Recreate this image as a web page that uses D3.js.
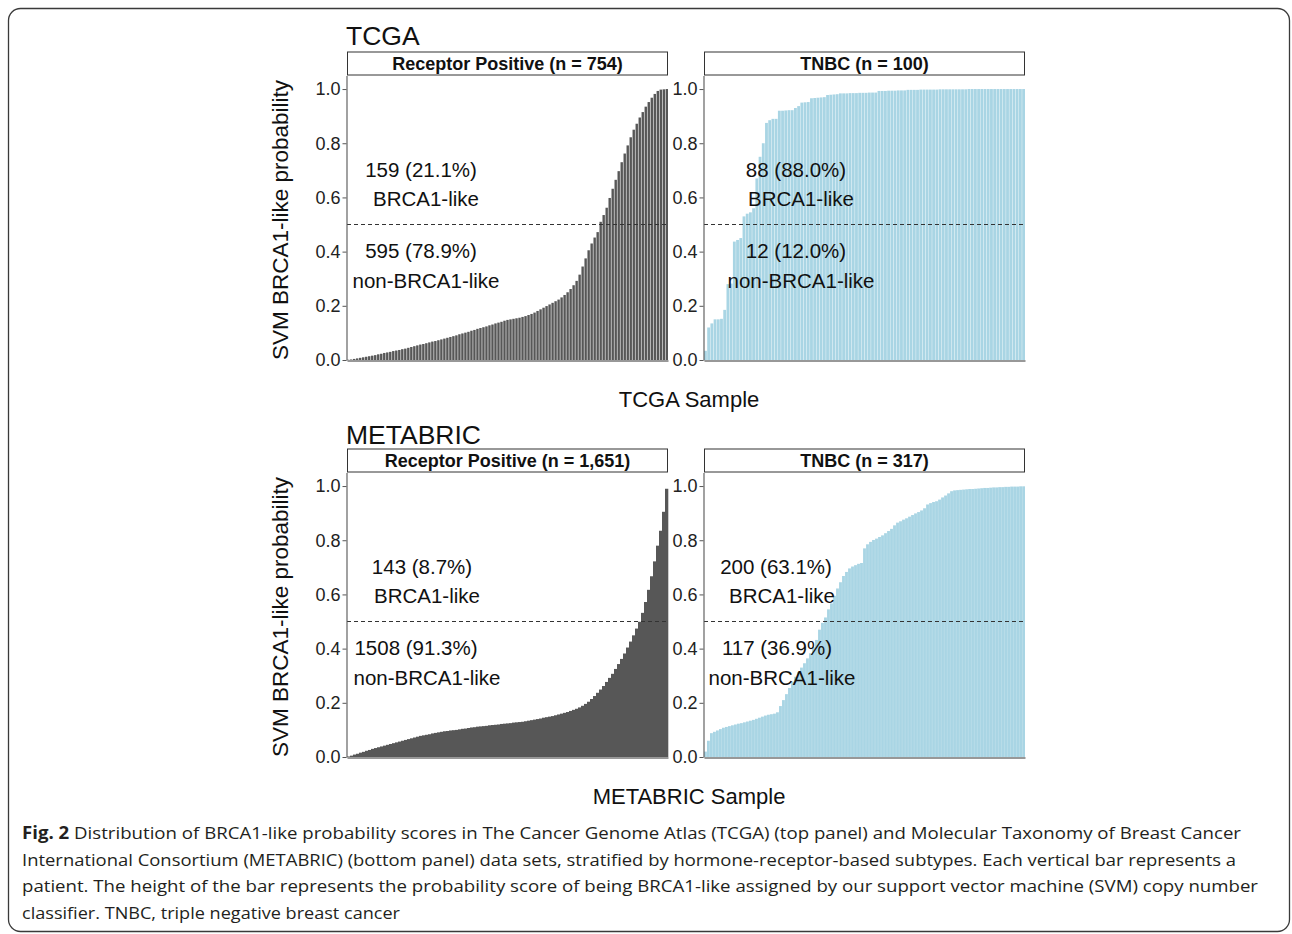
<!DOCTYPE html>
<html>
<head>
<meta charset="utf-8">
<script src="https://cdn.jsdelivr.net/npm/d3@7"></script>
<style>
  body { margin: 0; background: #fff; }
  text { font-family: "Liberation Sans", Arial, sans-serif; }
  .caption { font-family: "Open Sans", "Noto Sans", sans-serif; fill: #231f20; }
</style>
</head>
<body>
<div class="chart"></div>
<script>
// sorted BRCA1-like probabilities left to right
const tcgaRp = [0.001,0.002,0.004,0.006,0.008,0.010,0.012,0.014,0.016,0.018,
  0.021,0.023,0.026,0.028,0.030,0.033,0.035,0.037,0.040,0.042,
  0.045,0.048,0.051,0.054,0.057,0.059,0.062,0.065,0.068,0.070,
  0.073,0.076,0.079,0.082,0.085,0.088,0.091,0.095,0.098,0.101,
  0.104,0.108,0.111,0.115,0.118,0.121,0.124,0.128,0.131,0.135,
  0.138,0.141,0.145,0.148,0.150,0.152,0.154,0.156,0.159,0.162,
  0.166,0.170,0.175,0.181,0.187,0.193,0.199,0.205,0.211,0.217,
  0.223,0.231,0.240,0.250,0.262,0.276,0.292,0.315,0.345,0.375,
  0.405,0.430,0.452,0.472,0.510,0.535,0.562,0.598,0.632,0.665,
  0.697,0.730,0.762,0.792,0.822,0.850,0.872,0.895,0.915,0.935,
  0.952,0.968,0.982,0.993,0.998,0.999,1.000];

const tcgaTnbc = [0.034,0.120,0.135,0.150,0.150,0.152,0.185,0.280,0.282,0.437,
  0.443,0.450,0.530,0.540,0.545,0.560,0.670,0.750,0.800,0.875,
  0.885,0.890,0.890,0.920,0.920,0.921,0.922,0.922,0.930,0.937,
  0.950,0.951,0.952,0.966,0.967,0.968,0.969,0.970,0.978,0.979,
  0.980,0.981,0.984,0.984,0.984,0.985,0.985,0.985,0.986,0.986,
  0.986,0.987,0.987,0.987,0.993,0.993,0.993,0.994,0.994,0.994,
  0.995,0.995,0.995,0.997,0.997,0.997,0.997,0.998,0.998,0.998,
  0.998,0.998,0.998,0.999,0.999,0.999,0.999,0.999,0.999,0.999,
  0.999,0.999,1.000,1.000,1.000,1.000,1.000,1.000,1.000,1.000,
  1.000,1.000,1.000,1.000,1.000,1.000,1.000,1.000,1.000,1.000];

const metabricRp = [0.002,0.005,0.009,0.012,0.016,0.019,0.023,0.026,0.030,0.033,
  0.036,0.039,0.042,0.045,0.048,0.051,0.054,0.057,0.060,0.063,
  0.066,0.069,0.072,0.075,0.078,0.080,0.082,0.084,0.087,0.089,
  0.091,0.093,0.095,0.096,0.098,0.099,0.100,0.102,0.104,0.105,
  0.107,0.109,0.110,0.112,0.113,0.114,0.115,0.117,0.118,0.119,
  0.120,0.122,0.123,0.124,0.125,0.127,0.128,0.129,0.130,0.132,
  0.134,0.136,0.138,0.140,0.142,0.145,0.147,0.149,0.151,0.154,
  0.157,0.160,0.163,0.166,0.170,0.174,0.178,0.183,0.189,0.196,
  0.204,0.214,0.225,0.237,0.249,0.262,0.277,0.292,0.307,0.325,
  0.343,0.362,0.382,0.404,0.426,0.449,0.474,0.499,0.532,0.572,
  0.617,0.667,0.722,0.780,0.835,0.905,0.990];

const metabricTnbc = [0.020,0.060,0.088,0.093,0.098,0.103,0.108,0.111,0.114,0.117,
  0.120,0.123,0.125,0.128,0.131,0.134,0.137,0.141,0.145,0.149,
  0.153,0.156,0.158,0.160,0.165,0.188,0.210,0.232,0.255,0.278,
  0.296,0.313,0.330,0.346,0.364,0.383,0.405,0.432,0.470,0.495,
  0.515,0.545,0.567,0.595,0.622,0.645,0.668,0.683,0.696,0.703,
  0.708,0.713,0.716,0.770,0.785,0.794,0.801,0.806,0.812,0.818,
  0.826,0.834,0.842,0.855,0.865,0.870,0.876,0.881,0.887,0.893,
  0.899,0.904,0.910,0.918,0.932,0.937,0.941,0.944,0.950,0.958,
  0.965,0.973,0.981,0.984,0.985,0.986,0.987,0.988,0.989,0.989,
  0.990,0.991,0.992,0.993,0.993,0.994,0.995,0.995,0.996,0.996,
  0.997,0.997,0.998,0.998,0.998,0.999,0.999];

const stripLabels = ["Receptor Positive (n = 754)", "TNBC (n = 100)",
  "Receptor Positive (n = 1,651)", "TNBC (n = 317)"];
const tcgaRpLabels = ["159 (21.1%)", "BRCA1-like", "595 (78.9%)", "non-BRCA1-like"];
const tcgaTnbcLabels = ["88 (88.0%)", "BRCA1-like", "12 (12.0%)", "non-BRCA1-like"];
const metabricRpLabels = ["143 (8.7%)", "BRCA1-like", "1508 (91.3%)", "non-BRCA1-like"];
const metabricTnbcLabels = ["200 (63.1%)", "BRCA1-like", "117 (36.9%)", "non-BRCA1-like"];
const yTicks = [0, 0.2, 0.4, 0.6, 0.8, 1.0];
const threshold = 0.5;
const labelLevels = [0.70, 0.594, 0.402, 0.292];

const captionLines = [
  ["Fig. 2", " Distribution of BRCA1-like probability scores in The Cancer Genome Atlas (TCGA) (top panel) and Molecular Taxonomy of Breast Cancer"],
  ["", "International Consortium (METABRIC) (bottom panel) data sets, stratified by hormone-receptor-based subtypes. Each vertical bar represents a"],
  ["", "patient. The height of the bar represents the probability score of being BRCA1-like assigned by our support vector machine (SVM) copy number"],
  ["", "classifier. TNBC, triple negative breast cancer"]
];

const W = 1292, H = 934;
const panelW = 321;
const dark = "#575757", blue = "#a9d5e4";

const svg = d3.select(".chart")
  .append("svg")
  .attr("width", W)
  .attr("height", H);

svg.append("rect")
  .attr("x", 8.5).attr("y", 8.5)
  .attr("width", 1281).attr("height", 923)
  .attr("rx", 12)
  .attr("fill", "none")
  .attr("stroke", "#3a3a3a")
  .attr("stroke-width", 1.3);

const rows = [
  { title: "TCGA", xTitle: "TCGA Sample", top: 75.5, bottom: 360, titleY: 45, xTitleY: 407, yLabelY: 220 },
  { title: "METABRIC", xTitle: "METABRIC Sample", top: 472.5, bottom: 757, titleY: 444, xTitleY: 804, yLabelY: 617 }
];

const panels = [
  { row: 0, x0: 347, values: tcgaRp, strip: stripLabels[0], labels: tcgaRpLabels, fill: dark, pad: 0.2, labelX: [421, 426, 421, 426] },
  { row: 0, x0: 704, values: tcgaTnbc, strip: stripLabels[1], labels: tcgaTnbcLabels, fill: blue, pad: 0.12, labelX: [796, 801, 796, 801] },
  { row: 1, x0: 347, values: metabricRp, strip: stripLabels[2], labels: metabricRpLabels, fill: dark, pad: 0, labelX: [422, 427, 416, 427] },
  { row: 1, x0: 704, values: metabricTnbc, strip: stripLabels[3], labels: metabricTnbcLabels, fill: blue, pad: 0.06, labelX: [776, 782, 777, 782] }
];

rows.forEach(r => {
  svg.append("text")
    .attr("x", 346).attr("y", r.titleY)
    .attr("font-size", "26.5px")
    .attr("fill", "#111")
    .text(r.title);

  svg.append("text")
    .attr("x", 689).attr("y", r.xTitleY)
    .attr("text-anchor", "middle")
    .attr("font-size", "22px")
    .attr("fill", "#111")
    .text(r.xTitle);

  svg.append("text")
    .attr("transform", `translate(288, ${r.yLabelY}) rotate(-90)`)
    .attr("text-anchor", "middle")
    .attr("font-size", "22.5px")
    .attr("fill", "#111")
    .text("SVM BRCA1-like probability");
});

panels.forEach(p => {
  const r = rows[p.row];
  const g = svg.append("g");

  const xScale = d3.scaleBand()
    .domain(d3.range(p.values.length))
    .range([p.x0, p.x0 + panelW])
    .paddingInner(p.pad);

  const yScale = d3.scaleLinear()
    .domain([0, 1.05])
    .range([r.bottom, r.top]);

  // strip
  g.append("rect")
    .attr("x", p.x0 + 0.5).attr("y", r.top - 23.5)
    .attr("width", panelW - 1).attr("height", 23)
    .attr("fill", "#fff")
    .attr("stroke", "#333")
    .attr("stroke-width", 1);

  g.append("text")
    .attr("x", p.x0 + panelW / 2).attr("y", r.top - 5.5)
    .attr("text-anchor", "middle")
    .attr("font-size", "18px")
    .attr("font-weight", "bold")
    .attr("fill", "#111")
    .text(p.strip);

  g.selectAll(".bar")
    .data(p.values)
    .enter()
    .append("rect")
    .attr("class", "bar")
    .attr("fill", p.fill)
    .attr("x", (d, i) => xScale(i))
    .attr("width", xScale.bandwidth() + (p.pad === 0 ? 0.3 : 0))
    .attr("y", d => yScale(d))
    .attr("height", d => r.bottom - yScale(d));

  g.append("line")
    .attr("x1", p.x0).attr("x2", p.x0 + panelW)
    .attr("y1", yScale(threshold)).attr("y2", yScale(threshold))
    .attr("stroke", "#333")
    .attr("stroke-width", 1.1)
    .attr("stroke-dasharray", "4,3");

  g.selectAll(".note")
    .data(p.labels)
    .enter()
    .append("text")
    .attr("class", "note")
    .attr("x", (d, i) => p.labelX[i])
    .attr("y", (d, i) => yScale(labelLevels[i]) + 7)
    .attr("text-anchor", "middle")
    .attr("font-size", "20.5px")
    .attr("fill", "#111")
    .text(d => d);

  const yAxis = d3.axisLeft(yScale)
    .tickValues(yTicks)
    .tickFormat(d3.format(".1f"))
    .tickSize(4)
    .tickSizeOuter(0)
    .tickPadding(2);

  const ya = g.append("g")
    .attr("transform", `translate(${p.x0 - 0.5}, 0)`)
    .call(yAxis);
  ya.select(".domain").attr("stroke", "#555").attr("stroke-width", 1.1);
  ya.selectAll(".tick line").attr("stroke", "#555");
  ya.selectAll(".tick text")
    .attr("font-size", "18px")
    .attr("font-family", "Liberation Sans, Arial, sans-serif")
    .attr("fill", "#222");

  const xa = g.append("g")
    .attr("transform", `translate(0, ${r.bottom + 0.5})`)
    .call(d3.axisBottom(xScale).tickValues([]).tickSizeOuter(0));
  xa.select(".domain").attr("stroke", "#333").attr("stroke-width", 1.1);
});

// caption
const capY = [839, 865.5, 892, 918.5];
const capLen = [1219, 1214, 1236, 378];
captionLines.forEach((line, i) => {
  const t = svg.append("text")
    .attr("class", "caption")
    .attr("x", 22).attr("y", capY[i])
    .attr("font-size", "17px")
    .attr("textLength", capLen[i])
    .attr("lengthAdjust", "spacingAndGlyphs");
  if (line[0]) t.append("tspan").attr("font-weight", "bold").text(line[0]);
  t.append("tspan").text(line[1]);
});
</script>
</body>
</html>
